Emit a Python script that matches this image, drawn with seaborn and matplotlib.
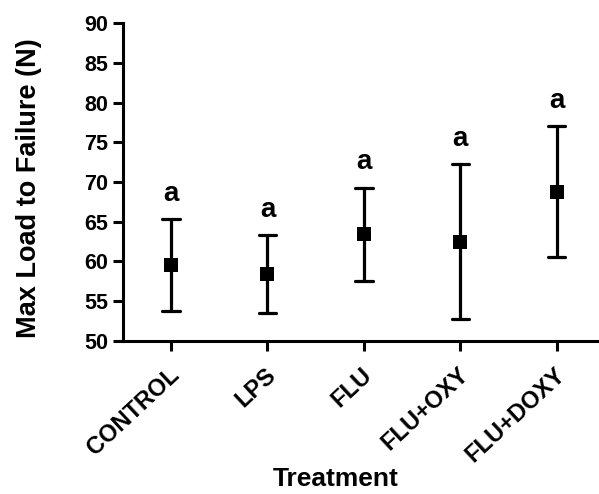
import pandas as pd
import seaborn as sns
import matplotlib.pyplot as plt
from matplotlib.transforms import ScaledTranslation

# valores (media y extremos de la barra de error)
treatments = ["CONTROL", "LPS", "FLU", "FLU+OXY", "FLU+DOXY"]
means = [59.5, 58.4, 63.4, 62.4, 68.7]
lower = [53.8, 53.5, 57.6, 52.7, 60.5]
upper = [65.3, 63.3, 69.3, 72.3, 77.0]
letters = ["a", "a", "a", "a", "a"]

# tabla larga: mediana = media, rango completo = barra de error
rows = []
for t, m, lo, hi in zip(treatments, means, lower, upper):
    for v in (lo, m, hi):
        rows.append({"Treatment": t, "Load": v})
df = pd.DataFrame(rows)

sns.set_style("ticks")
plt.rcParams["font.family"] = ["Liberation Sans", "DejaVu Sans"]
plt.rcParams["font.weight"] = "bold"
for k in ["text.color", "axes.labelcolor", "xtick.color", "ytick.color", "axes.edgecolor"]:
    plt.rcParams[k] = "black"

fig = plt.figure(figsize=(5.99, 4.94), dpi=100)
ax = fig.add_axes([0.205, 0.31, 0.805, 0.643])

sns.pointplot(
    data=df, x="Treatment", y="Load", order=treatments,
    estimator="median", errorbar=("pi", 100),
    linestyle="none", marker="s", markersize=9.6, markeredgewidth=0,
    color="black", capsize=0.18,
    err_kws={"linewidth": 2.3},
    ax=ax,
)

for i, (hi, lab) in enumerate(zip(upper, letters)):
    ax.text(i, hi + 2.3, lab, ha="center", va="baseline",
            fontsize=20, fontweight="bold")

ax.set_xlim(-0.5, 4.5)
ax.set_ylim(50, 90)
ax.set_yticks(range(50, 91, 5))
ax.set_ylabel("Max Load to Failure (N)", fontsize=19.5, fontweight="bold")
ax.set_xlabel("Treatment", fontsize=19, fontweight="bold")
ax.yaxis.set_label_coords(-0.167, 0.481)
ax.xaxis.set_label_coords(0.4425, -0.398)
ax.tick_params(axis="y", labelsize=15.5, width=2.2, length=7, pad=3.5, direction="out")
ax.tick_params(axis="x", labelsize=17, width=2.2, length=7, pad=9, direction="out")
shift = ScaledTranslation(-0.03, 0, fig.dpi_scale_trans)
for lbl in ax.get_xticklabels():
    lbl.set_rotation(43)
    lbl.set_ha("right")
    lbl.set_rotation_mode("anchor")
    lbl.set_fontweight("bold")
    lbl.set_transform(lbl.get_transform() + shift)
for lbl in ax.get_yticklabels():
    lbl.set_fontweight("bold")

sns.despine(ax=ax)
ax.spines["left"].set_linewidth(2.2)
ax.spines["bottom"].set_linewidth(2.2)

fig.savefig("out.png", dpi=100)
